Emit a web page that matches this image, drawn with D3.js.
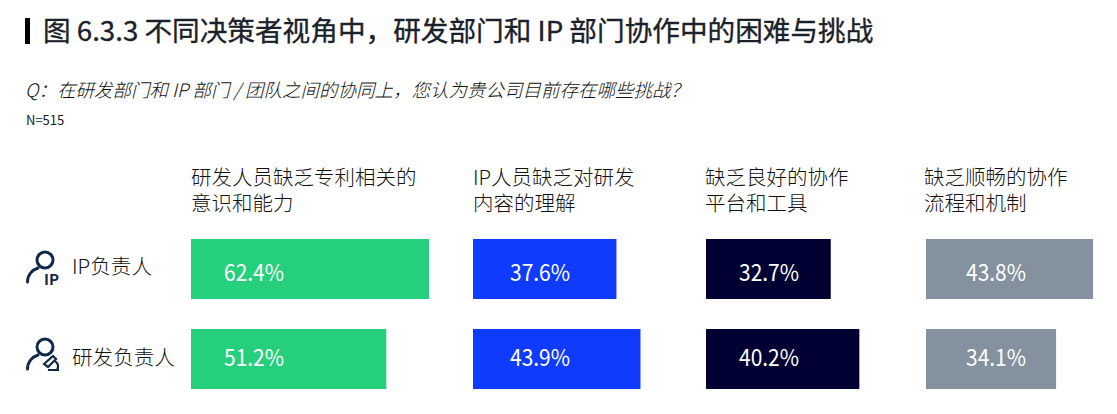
<!DOCTYPE html>
<html><head><meta charset="utf-8">
<script src="https://cdn.jsdelivr.net/npm/d3@7"></script>
<style>html,body{margin:0;background:#fff}svg{display:block}text{font-family:"Noto Sans CJK SC","Noto Sans",sans-serif}</style>
</head><body><svg id="c" width="1117" height="414"></svg>
<script>
const titleText="图 6.3.3 不同决策者视角中，研发部门和 IP 部门协作中的困难与挑战";
const questionText="Q：在研发部门和 IP 部门 / 团队之间的协同上，您认为贵公司目前存在哪些挑战？";
const sampleText="N=515";
const roles=["IP负责人","研发负责人"];
const challenges=[["研发人员缺乏专利相关的","意识和能力"],["IP人员缺乏对研发","内容的理解"],["缺乏良好的协作","平台和工具"],["缺乏顺畅的协作","流程和机制"]];
const ipValues=[62.4,37.6,32.7,43.8];
const rdValues=[51.2,43.9,40.2,34.1];
const colColors=["#25cf7c","#0f3bff","#000033","#8492a0"];
const colStarts=[191,473,706,926];
const headX=[191,473,705,924];
const labelX=[224,510,739,966];

const svg=d3.select("#c");
const ink="#1a2129";
const w=d3.scaleLinear().domain([0,100]).range([0,381.5]);
const y=d3.scaleBand().domain(roles).range([239,389]).paddingInner(1/3).paddingOuter(0);
const labelBase=[281,366], roleBase=[274,365];

svg.append("rect").attr("x",25).attr("y",18).attr("width",5).attr("height",26).attr("fill","#000");
svg.append("text").attr("x",43).attr("y",41).attr("font-size",27.65).attr("font-weight",400).attr("fill",ink).attr("stroke",ink).attr("stroke-width",0.35).text(titleText);
svg.append("text").attr("x",25).attr("y",97).attr("font-size",18.5).attr("font-style","italic").attr("font-weight",300).attr("fill","#111").text(questionText);
svg.append("text").attr("x",26).attr("y",125).attr("font-size",13).attr("fill",ink).text(sampleText);

challenges.forEach((lines,i)=>{
  lines.forEach((l,k)=>svg.append("text").attr("x",headX[i]).attr("y",185+k*26).attr("font-size",20.5).attr("font-weight",300).attr("fill","#111").text(l));
});
[ipValues,rdValues].forEach((vals,r)=>{
  const g=svg.append("g");
  g.selectAll("rect").data(vals).join("rect")
    .attr("x",(d,i)=>colStarts[i]).attr("y",y(roles[r])).attr("width",d=>w(d)).attr("height",y.bandwidth())
    .attr("fill",(d,i)=>colColors[i]);
  g.selectAll("text").data(vals).join("text")
    .attr("x",(d,i)=>labelX[i]).attr("y",labelBase[r])
    .attr("font-size",23).attr("fill","#fff").attr("font-weight",400)
    .attr("textLength",60).attr("lengthAdjust","spacingAndGlyphs").text(d=>d.toFixed(1)+"%");
});
roles.forEach((t,r)=>svg.append("text").attr("x",72).attr("y",roleBase[r]).attr("font-size",20.6).attr("font-weight",300).attr("fill","#111").text(t));

// person icons
[0,87].forEach((dy,r)=>{
  const g=svg.append("g").attr("transform",`translate(0,${dy})`).attr("fill","none").attr("stroke","#13294b").attr("stroke-width",3).attr("stroke-linecap","round");
  g.append("circle").attr("cx",45).attr("cy",260).attr("r",8);
  g.append("path").attr("d","M27.5 282 C27.5 275 32 270 38 268");
  if(r===0){
    svg.append("text").attr("x",44).attr("y",285).attr("font-size",15).attr("font-weight",700).attr("fill","#13294b").attr("font-family","Noto Sans").text("IP");
  }else{
    const p=svg.append("g").attr("fill","none").attr("stroke","#13294b").attr("stroke-width",2.2);
    p.append("path").attr("d","M44 364 L53 356 L56 359 L48 367 Z");
    p.append("path").attr("d","M48 370 L59 370 M55 361 Q60 365 57 370");
  }
});
</script></body></html>
